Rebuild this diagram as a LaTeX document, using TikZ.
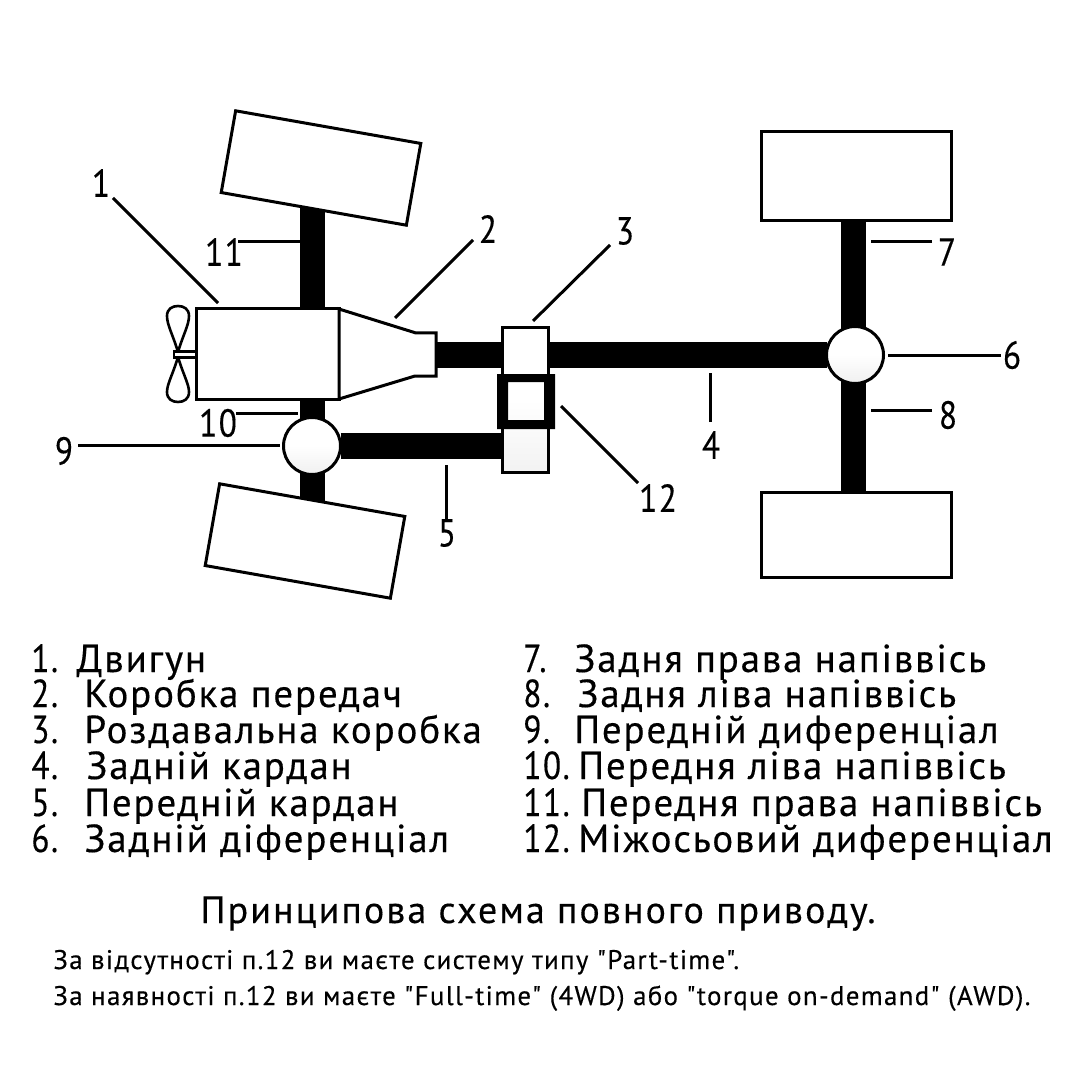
\documentclass[tikz,border=0pt]{standalone}
\usepackage{fontspec}
\usepackage{graphicx}
\setmainfont[LetterSpace=4.7,Ligatures=TeXOff,FakeBold=0.35,Numbers=Lining]{PT Sans}
\newfontfamily\titlefont[LetterSpace=5.5,Ligatures=TeXOff,FakeBold=0.35,Numbers=Lining]{PT Sans}
\newfontfamily\notefont[LetterSpace=5,Ligatures=TeXOff,FakeBold=0.35,Numbers=Lining]{PT Sans}
\pgfdeclarelayer{axles}
\pgfsetlayers{axles,main}
\tikzset{
  part/.style={draw=black,line width=1.5pt,fill=white,inner sep=0pt,outer sep=0pt},
  wheelbox/.style={part,minimum width=94pt,minimum height=41.5pt},
  diffball/.style={part,circle,minimum size=28.5pt,top color=white,bottom color=black!6,middle color=white},
  axle/.style={line width=12.8pt,black},
  leader/.style={line width=1.5pt,black},
  num/.style={font=\fontsize{19.5pt}{20pt}\selectfont,inner sep=0pt},
  listline/.style={anchor=base west,font=\fontsize{19.5pt}{20pt}\selectfont,inner sep=0pt},
  titleline/.style={anchor=base,font=\titlefont\fontsize{19pt}{20pt}\selectfont,inner sep=0pt},
  noteline/.style={anchor=base west,font=\notefont\fontsize{13.45pt}{14pt}\selectfont,inner sep=0pt},
}
\newcommand{\nar}[1]{\scalebox{0.85}[1]{#1}}
\newcommand{\lnum}[2]{\makebox[#2pt][l]{\nar{#1}}}
\begin{document}
\begin{tikzpicture}[x=0.5pt,y=-0.5pt]
\useasboundingbox (0,0) rectangle (1080,1080);

% wheels
\node[wheelbox,rotate=-10] (wFR) at (321,168) {};
\node[wheelbox,rotate=-10] (wFL) at (305,541) {};
\node[wheelbox,minimum width=95pt,minimum height=44.5pt] (wRT) at (856,176.5) {};
\node[wheelbox,minimum width=95pt,minimum height=42.5pt] (wRB) at (856,534.5) {};

% engine and gearbox
\node[part,minimum width=71.5pt,minimum height=45pt] (engine) at (267.5,354) {};
\draw[part] (339,309) -- (416,333) -- (436,333) -- (436,376) -- (415,376) -- (339,399) -- cycle;
\coordinate (gearout) at (436,355);

% fan
\draw[line width=1.3pt,fill=white] (178,352) .. controls (173,335) and (167,325) .. (167,316)
  .. controls (167,309) and (172,306) .. (178,306)
  .. controls (184,306) and (189,309) .. (189,316)
  .. controls (189,325) and (183,335) .. (178,352) -- cycle;
\draw[line width=1.3pt,fill=white] (178,357) .. controls (173,374) and (167,384) .. (167,392)
  .. controls (167,399) and (172,402) .. (178,402)
  .. controls (184,402) and (189,399) .. (189,392)
  .. controls (189,384) and (183,374) .. (178,357) -- cycle;
\draw[line width=1.1pt,fill=white] (174,351.5) rectangle (196,357.5);

% transfer case and centre differential
\node[part,minimum width=23pt,minimum height=72pt,top color=white,bottom color=black!5,middle color=white] (tcase) at (525.5,400) {};
\fill[black,even odd rule] (497,374) rectangle (555,429) (508,382) rectangle (544,420);

% differentials
\node[diffball] (dF) at (312,446) {};
\node[diffball] (dR) at (855,355) {};

% axles and shafts
\coordinate (axF) at (312.5,446);
\coordinate (axR) at (853.5,355);
\begin{pgfonlayer}{axles}
\draw[axle] (axF |- wFR.center) -- (axF |- wFL.center);
\draw[axle] (axR |- wRT.center) -- (axR |- wRB.center);
\draw[axle] (gearout) -- (dR);
\draw[axle] (dF) -- (tcase |- dF);
\end{pgfonlayer}

% number labels
\node[num] (n1) at (101,183) {\nar{1}};
\node[num] (n2) at (488,229) {\nar{2}};
\node[num] (n3) at (625,231) {\nar{3}};
\node[num] (n4) at (711,445) {\nar{4}};
\node[num] (n5) at (447,533) {\nar{5}};
\node[num] (n6) at (1012,355) {\nar{6}};
\node[num] (n7) at (947,252) {\nar{7}};
\node[num] (n8) at (948,415) {\nar{8}};
\node[num] (n9) at (64,451) {\nar{9}};
\node[num] (n10) at (218,423) {\nar{10}};
\node[num] (n11) at (224,252) {\nar{11}};
\node[num] (n12) at (658,498) {\nar{12}};

% leader ends
\coordinate (a1) at (113,198); \coordinate (b1) at (218,303);
\coordinate (a2) at (473,240); \coordinate (b2) at (395,318);
\coordinate (a3) at (610,245); \coordinate (b3) at (533,321);
\coordinate (a4) at (710,422); \coordinate (b4) at (710,373);
\coordinate (a5) at (446,522); \coordinate (b5) at (446,465);
\coordinate (a6) at (1001,355); \coordinate (b6) at (888,355);
\coordinate (a7) at (932,242); \coordinate (b7) at (871,242);
\coordinate (a8) at (932,410); \coordinate (b8) at (871,410);
\coordinate (a9) at (78,445); \coordinate (b9) at (280,445);
\coordinate (a10) at (236,413); \coordinate (b10) at (298,413);
\coordinate (a11) at (238,242); \coordinate (b11) at (300,242);
\coordinate (a12) at (638,483); \coordinate (b12) at (561,406);
\foreach \i in {1,...,12} \draw[leader] (a\i) -- (b\i);

% legend
\node[listline] (l1) at (31,672) {\lnum{1.}{22.5}Двигун};
\node[listline] (l2) at (31,707) {\lnum{2.}{26.5}Коробка передач};
\node[listline] (l3) at (31,743) {\lnum{3.}{26.5}Роздавальна коробка};
\node[listline] (l4) at (31,779) {\lnum{4.}{27.5}Задній кардан};
\node[listline] (l5) at (31,816) {\lnum{5.}{26.5}Передній кардан};
\node[listline] (l6) at (31,852) {\lnum{6.}{26.5}Задній діференціал};
\node[listline] (r7) at (523,672) {\lnum{7.}{25.5}Задня права напіввісь};
\node[listline] (r8) at (523,707) {\lnum{8.}{27}Задня ліва напіввісь};
\node[listline] (r9) at (523,743) {\lnum{9.}{25.5}Передній диференціал};
\node[listline] (r10) at (523,779) {\lnum{10.}{27.5}Передня ліва напіввісь};
\node[listline] (r11) at (523,816) {\lnum{11.}{29}Передня права напіввісь};
\node[listline] (r12) at (523,852) {\lnum{12.}{27.5}Міжосьовий диференціал};

\node[titleline] (title) at (538,923) {Принципова схема повного приводу.};
\node[noteline] (note1) at (53,969) {За відсутності п.12 ви маєте систему типу "Part-time".};
\node[noteline] (note2) at (53,1005) {За наявності п.12 ви маєте "Full-time" (4WD) або "torque on-demand" (AWD).};
\end{tikzpicture}
\end{document}
